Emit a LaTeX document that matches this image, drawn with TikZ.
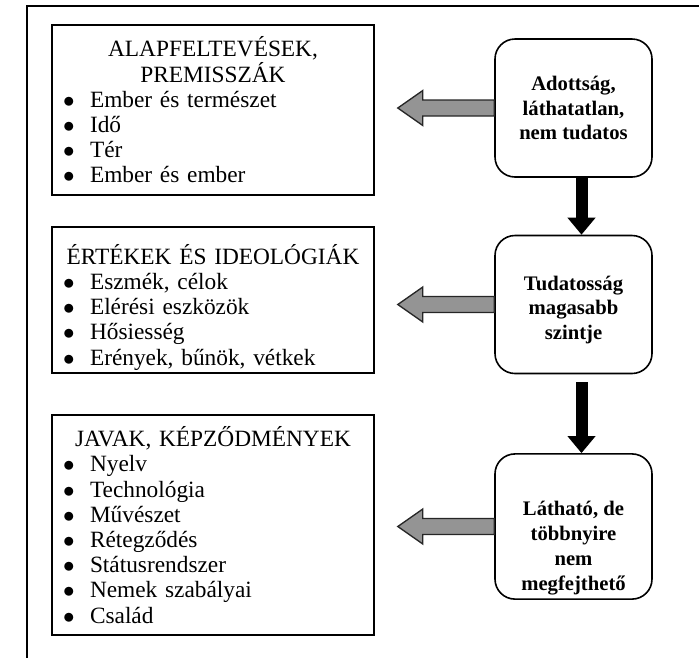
\documentclass[tikz,border=0pt]{standalone}
\usepackage{fontspec}
\setmainfont{Liberation Serif}
\usetikzlibrary{calc,positioning,arrows.meta}

\newcommand{\tightlines}{\lineskiplimit=-20pt\relax}
\newcommand{\itm}[1]{\makebox[20.25pt][l]{$\bullet$}#1}
\newcommand{\ttl}[1]{\makebox[225pt]{#1}}
\newcommand{\sidearrow}[2]{%
    \coordinate (tip) at ($(#2.east |- #1.west)+(23,0)$);
    \draw[sidearr] ($(#1.west)+(0,-8)$) -- ($(tip)+(25,-8)$) -- ($(tip)+(25,-17.5)$)
        -- (tip) -- ($(tip)+(25,17.5)$) -- ($(tip)+(25,8)$) -- ($(#1.west)+(0,8)$) -- cycle;}

\tikzset{
    listbox/.style={
        draw,
        line width=1.2pt,
        minimum width=241.5pt,
        minimum height=#1,
        inner xsep=8.25pt,
        inner ysep=0pt,
        text width=225pt,
        align=left,
        font=\fontsize{17.5}{18.9}\selectfont\tightlines
    },
    stagebox/.style={
        draw,
        line width=1.2pt,
        rounded corners=15pt,
        minimum width=117.75pt,
        minimum height=103.5pt,
        align=center,
        font=\fontsize{15.5}{18.6}\selectfont\bfseries\tightlines
    },
    sidearr/.style={fill=black!42, draw=black!85, line width=1pt, line join=miter},
    downarr/.style={draw=black, line width=9pt, -{Triangle[width=20.25pt,length=12.75pt]}}
}

\begin{document}
\begin{tikzpicture}[x=0.75pt,y=-0.75pt]
    \useasboundingbox (0,0) rectangle (699,658);

    % frame
    \draw[line width=1.5pt] (699,6) -- (27,6) -- (27,658);

    % left column
    \node[listbox=127.5pt] (alap) at (213,110) {
        \ttl{ALAPFELTEVÉSEK,}\\
        \ttl{PREMISSZÁK}\\
        \itm{Ember és természet}\\
        \itm{Idő}\\
        \itm{Tér}\\
        \itm{Ember és ember}
    };
    \node[listbox=109.5pt] (ertek) at (213,300) {
        \vspace*{7pt}
        \ttl{ÉRTÉKEK ÉS IDEOLÓGIÁK}\\
        \itm{Eszmék, célok}\\
        \itm{Elérési eszközök}\\
        \itm{Hősiesség}\\
        \itm{Erények, bűnök, vétkek}
    };
    \node[listbox=165pt] (javak) at (213,525) {
        \ttl{JAVAK, KÉPZŐDMÉNYEK}\\
        \itm{Nyelv}\\
        \itm{Technológia}\\
        \itm{Művészet}\\
        \itm{Rétegződés}\\
        \itm{Státusrendszer}\\
        \itm{Nemek szabályai}\\
        \itm{Család}
    };

    % right column
    \node[stagebox] (adott) at (573.5,108) {Adottság,\\láthatatlan,\\nem tudatos};
    \node[stagebox] (tudat) at (573.5,304.5) {\rule{0pt}{19pt}Tudatosság\\magasabb\\szintje};
    \node[stagebox] (lathat) at (573.5,526.5) {\rule{0pt}{43pt}Látható, de\\többnyire\\nem\\megfejthető};

    % arrows
    \draw[downarr] ($(adott.south)+(8,0)$) -- ($(tudat.north)+(8,0)$);
    \draw[downarr, shorten <=6pt] ($(tudat.south)+(8,0)$) -- ($(lathat.north)+(8,0)$);
    \sidearrow{adott}{alap}
    \sidearrow{tudat}{ertek}
    \sidearrow{lathat}{javak}
\end{tikzpicture}
\end{document}
